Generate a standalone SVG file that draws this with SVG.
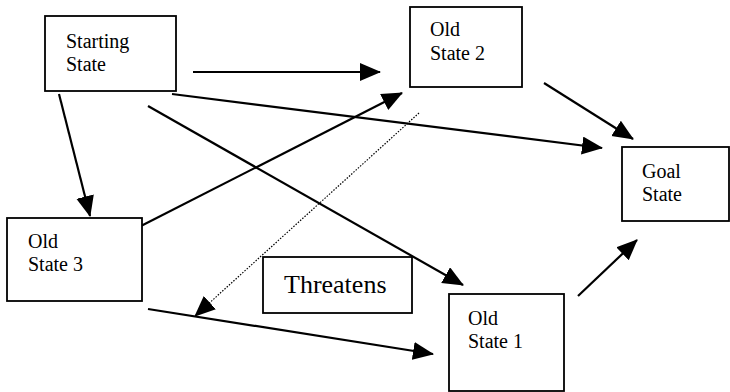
<svg xmlns="http://www.w3.org/2000/svg" width="730" height="392" viewBox="0 0 730 392">
<defs>
<style>
.box{fill:#fff;stroke:#000;stroke-width:1.8}
.lbl{font-family:"Liberation Serif","Times New Roman",serif;font-size:20px;fill:#000}
.big{font-family:"Liberation Serif","Times New Roman",serif;font-size:26px;fill:#000}
.edge{stroke:#000;stroke-width:2.2;fill:none;marker-end:url(#ah)}
.dot{stroke:#000;stroke-width:1.2;stroke-dasharray:1.5 1.5;fill:none;marker-end:url(#ah)}
</style>
<marker id="ah" markerUnits="userSpaceOnUse" markerWidth="22" markerHeight="20" refX="20" refY="9" orient="auto">
<path d="M0,0 L21,9 L0,18 z" fill="#000"/>
</marker>
</defs>
<rect width="730" height="392" fill="#fff"/>
<g id="connectors">
<line class="edge" x1="193" y1="72" x2="380" y2="72"/>
<line class="edge" x1="172" y1="94" x2="602" y2="148"/>
<line class="edge" x1="148" y1="106" x2="463" y2="285"/>
<line class="edge" x1="59" y1="94" x2="90" y2="216"/>
<line class="edge" x1="137" y1="228" x2="402" y2="93"/>
<line class="edge" x1="544" y1="83" x2="633" y2="139"/>
<line class="edge" x1="578" y1="296" x2="637" y2="240"/>
<line class="edge" x1="148" y1="309" x2="433" y2="354"/>
<line class="dot" x1="419" y1="113" x2="195" y2="316"/>
</g>
<g id="starting-state">
<rect class="box" x="45" y="16" width="131" height="75"/>
<text class="lbl" x="66" y="48">Starting</text>
<text class="lbl" x="66" y="71">State</text>
</g>
<g id="old-state-2">
<rect class="box" x="410" y="7" width="112" height="80"/>
<text class="lbl" x="430" y="36">Old</text>
<text class="lbl" x="430" y="60">State 2</text>
</g>
<g id="goal-state">
<rect class="box" x="622" y="147" width="107" height="74"/>
<text class="lbl" x="642" y="178">Goal</text>
<text class="lbl" x="642" y="201">State</text>
</g>
<g id="old-state-3">
<rect class="box" x="7" y="218" width="135" height="83"/>
<text class="lbl" x="28" y="248">Old</text>
<text class="lbl" x="28" y="271">State 3</text>
</g>
<g id="threatens">
<rect class="box" x="263" y="257" width="149" height="56"/>
<text class="big" x="284" y="293">Threatens</text>
</g>
<g id="old-state-1">
<rect class="box" x="449" y="294" width="115" height="97"/>
<text class="lbl" x="468" y="325">Old</text>
<text class="lbl" x="468" y="348">State 1</text>
</g>
</svg>
